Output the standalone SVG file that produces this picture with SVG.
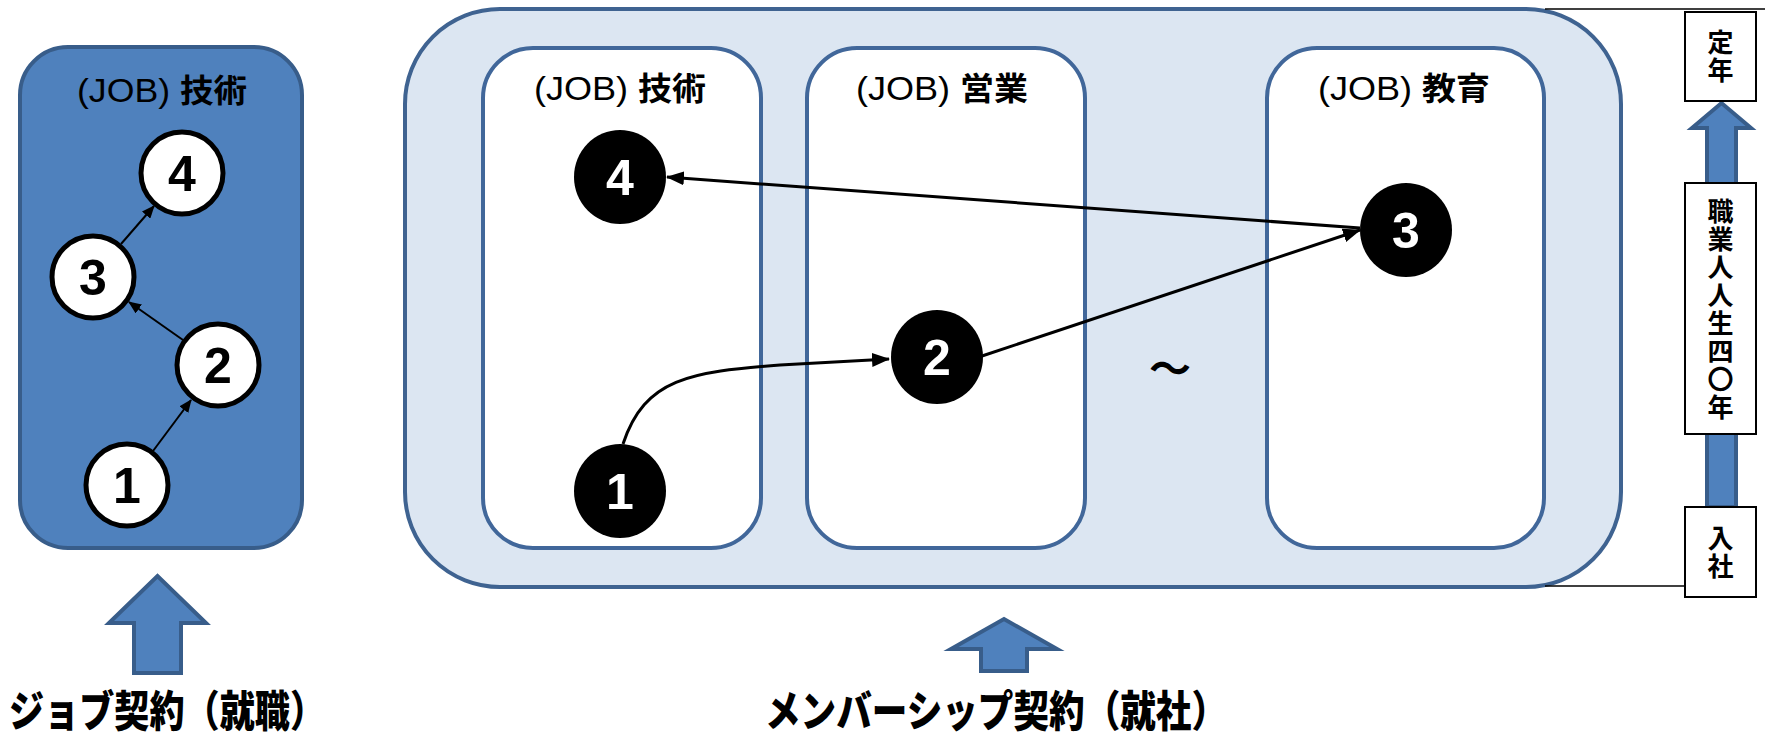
<svg xmlns="http://www.w3.org/2000/svg" width="1765" height="740" viewBox="0 0 1765 740">
<style>
.title{font-family:"Liberation Sans","Noto Sans CJK JP",sans-serif;font-size:34px;font-weight:normal;fill:#000;text-anchor:middle}
.kanji{font-family:"Noto Sans CJK JP",sans-serif;font-weight:bold;font-size:32px}
.wnum{font-family:"Liberation Sans",sans-serif;font-size:50px;font-weight:bold;fill:#000;text-anchor:middle}
.bnum{font-family:"Liberation Sans",sans-serif;font-size:50px;font-weight:bold;fill:#fff;text-anchor:middle}
.wc{fill:#fff;stroke:#000;stroke-width:5}
.bc{fill:#000;stroke:none}
.inner{fill:#fff;stroke:#41679A;stroke-width:4}
.tl{fill:#fff;stroke:#000;stroke-width:2}
.vt{font-family:"Noto Sans CJK JP",sans-serif;font-size:26px;font-weight:bold;fill:#000;text-anchor:middle;writing-mode:vertical-rl;letter-spacing:2px}
.big{font-family:"Noto Sans CJK JP",sans-serif;font-size:43px;font-weight:900;fill:#000}
.barrow{fill:#4F81BD;stroke:#385D8A;stroke-width:4}
.thin{stroke:#000;stroke-width:2;fill:none}
.thick{stroke:#000;stroke-width:3;fill:none}
</style>
<defs>
<marker id="ahs" markerWidth="13" markerHeight="11" refX="12" refY="5.5" orient="auto" markerUnits="userSpaceOnUse"><path d="M0,0 L13,5.5 L0,11 z" fill="#000"/></marker>
<marker id="ahl" markerWidth="18" markerHeight="14" refX="17" refY="7" orient="auto" markerUnits="userSpaceOnUse"><path d="M0,0 L18,7 L0,14 z" fill="#000"/></marker>
</defs>

<g id="job-panel">
<rect x="20" y="47" width="282" height="501" rx="48" ry="48" fill="#4F81BD" stroke="#385D8A" stroke-width="4"/>
<text class="title" x="162" y="102" textLength="170" lengthAdjust="spacingAndGlyphs">(JOB) <tspan class="kanji">技術</tspan></text>
</g>
<g id="job-n4"><circle class="wc" cx="182" cy="173" r="41"/><text class="wnum" x="182" y="191">4</text></g>
<g id="job-n3"><circle class="wc" cx="93" cy="277" r="41"/><text class="wnum" x="93" y="295">3</text></g>
<g id="job-n2"><circle class="wc" cx="218" cy="365" r="41"/><text class="wnum" x="218" y="383">2</text></g>
<g id="job-n1"><circle class="wc" cx="127" cy="485" r="41"/><text class="wnum" x="127" y="503">1</text></g>

<g id="member-container">
<rect x="405" y="9" width="1216" height="578" rx="95" ry="95" fill="#DCE6F2" stroke="#3F6391" stroke-width="4"/>
</g>
<g id="box-gijutsu">
<rect class="inner" x="483" y="48" width="278" height="500" rx="50" ry="50"/>
<text class="title" x="620" y="100" textLength="172" lengthAdjust="spacingAndGlyphs">(JOB) <tspan class="kanji">技術</tspan></text>
</g>
<g id="box-eigyo">
<rect class="inner" x="807" y="48" width="278" height="500" rx="50" ry="50"/>
<text class="title" x="942" y="100" textLength="172" lengthAdjust="spacingAndGlyphs">(JOB) <tspan class="kanji">営業</tspan></text>
</g>
<g id="box-kyoiku">
<rect class="inner" x="1267" y="48" width="277" height="500" rx="50" ry="50"/>
<text class="title" x="1404" y="100" textLength="172" lengthAdjust="spacingAndGlyphs">(JOB) <tspan class="kanji">教育</tspan></text>
</g>
<g id="tilde"><text x="1170" y="384" font-family="Noto Sans CJK JP, sans-serif" font-size="42" font-weight="bold" text-anchor="middle">～</text></g>

<g id="m-n4"><ellipse class="bc" cx="620" cy="177" rx="46" ry="47"/><text class="bnum" x="620" y="195">4</text></g>
<g id="m-n1"><ellipse class="bc" cx="620" cy="491" rx="46" ry="47"/><text class="bnum" x="620" y="509">1</text></g>
<g id="m-n2"><ellipse class="bc" cx="937" cy="357" rx="46" ry="47"/><text class="bnum" x="937" y="375">2</text></g>
<g id="m-n3"><ellipse class="bc" cx="1406" cy="230" rx="46" ry="47"/><text class="bnum" x="1406" y="248">3</text></g>

<g id="connectors">
<line class="thin" x1="153" y1="451" x2="191" y2="400" marker-end="url(#ahs)"/>
<line class="thin" x1="183" y1="340" x2="129" y2="302" marker-end="url(#ahs)"/>
<line class="thin" x1="121" y1="244" x2="154" y2="206" marker-end="url(#ahs)"/>
<line class="thick" x1="1360" y1="228" x2="667" y2="177" marker-end="url(#ahl)"/>
<line class="thick" x1="982" y1="356" x2="1360" y2="230" marker-end="url(#ahl)"/>
<path class="thick" d="M623,444 C645,378 690,372 780,365 L889,359" marker-end="url(#ahl)"/>
</g>

<g id="timeline">
<line x1="1545" y1="9" x2="1765" y2="9" stroke="#000" stroke-width="1.5"/>
<line x1="1545" y1="586" x2="1685" y2="586" stroke="#000" stroke-width="1.5"/>
<path class="barrow" d="M1707,507 L1707,128 L1692,128 L1721.5,103 L1751,128 L1736,128 L1736,507 z"/>
</g>
<g id="teinen">
<rect class="tl" x="1685" y="12" width="71" height="89"/>
<text class="vt" x="1720.5" y="57">定年</text>
</g>
<g id="shokugyo">
<rect class="tl" x="1685" y="183" width="71" height="251"/>
<text class="vt" x="1720.5" y="310">職業人人生四〇年</text>
</g>
<g id="nyusha">
<rect class="tl" x="1685" y="507" width="71" height="90"/>
<text class="vt" x="1720.5" y="553">入社</text>
</g>

<g id="job-arrow"><path class="barrow" d="M134,673 L134,623 L109,623 L157.5,576 L206,623 L181,623 L181,673 z"/></g>
<g id="member-arrow"><path class="barrow" d="M981,671 L981,649 L951,649 L1004,619 L1057,649 L1027,649 L1027,671 z"/></g>
<g id="labels">
<text class="big" x="9" y="727" textLength="316" lengthAdjust="spacingAndGlyphs">ジョブ契約（就職）</text>
<text class="big" x="765" y="727" textLength="462" lengthAdjust="spacingAndGlyphs">メンバーシップ契約（就社）</text>
</g>
</svg>
